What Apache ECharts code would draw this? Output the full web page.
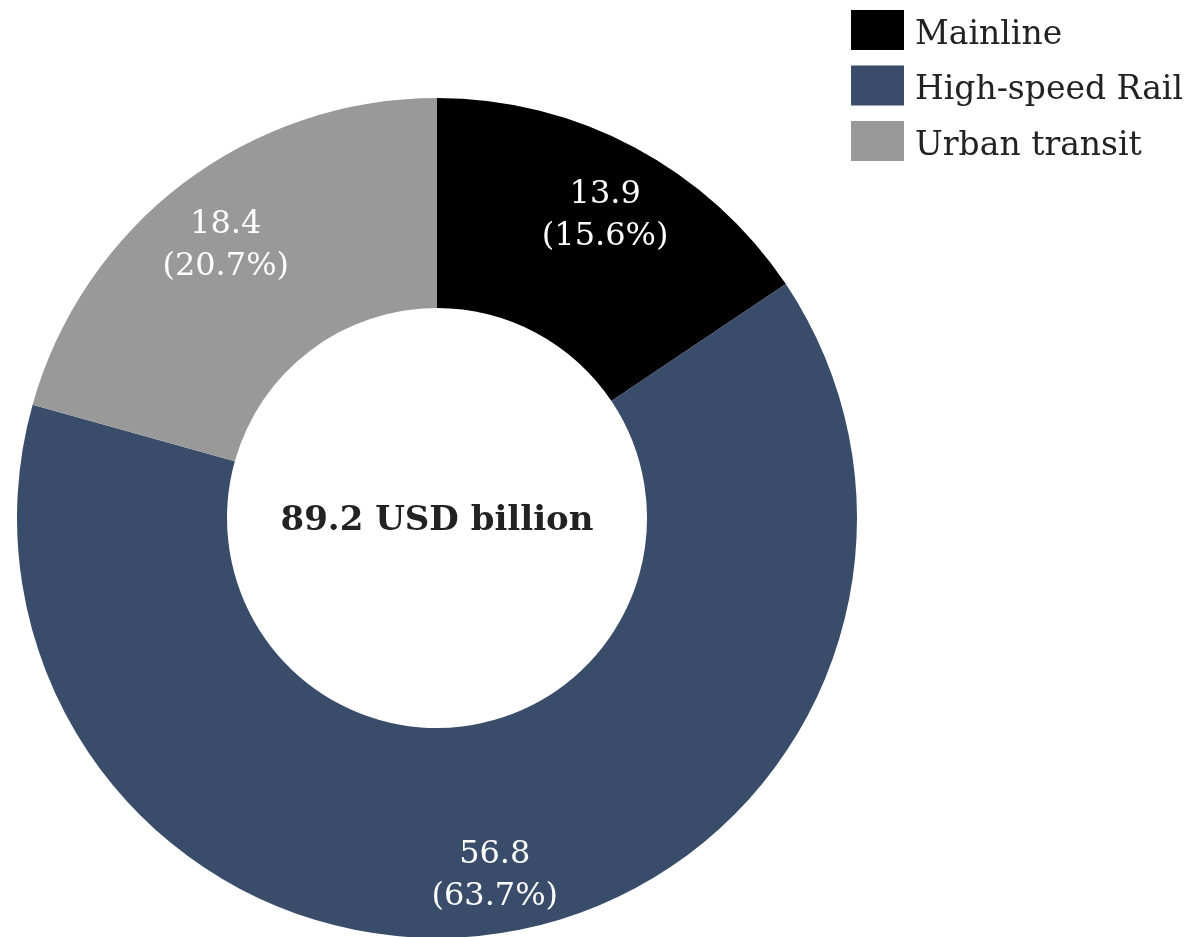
<!DOCTYPE html>
<html>
<head>
<meta charset="utf-8">
<script src="https://cdn.jsdelivr.net/npm/echarts@6/dist/echarts.min.js"></script>
<style>
html,body{margin:0;padding:0;background:#fff;}
#chart{width:1185px;height:937px;}
</style>
</head>
<body>
<div id="chart"></div>
<script>
const categories = ["Mainline", "High-speed Rail", "Urban transit"];
const values = [13.9, 56.8, 18.4];
const colors = ["#000000", "#394d6b", "#999999"];
const centerText = "89.2 USD billion";

const FONT = "DejaVu Serif, Liberation Serif, serif";
const total = values.reduce((a, b) => a + b, 0);
const chart = echarts.init(document.getElementById('chart'));
const data = categories.map((c, i) => ({ name: c, value: values[i], itemStyle: { color: colors[i] } }));

chart.setOption({
  animation: false,
  textStyle: { fontFamily: FONT },
  legend: {
    orient: 'vertical',
    left: 851,
    top: 10,
    padding: 0,
    icon: 'rect',
    itemWidth: 53,
    itemHeight: 40,
    itemGap: 14,
    data: categories,
    formatter: name => '{t|' + name + '}',
    textStyle: {
      fontFamily: FONT, fontSize: 33, color: '#222',
      rich: { t: { fontFamily: FONT, fontSize: 33, color: '#222', padding: [10, 0, 0, 6] } }
    }
  },
  title: {
    text: centerText,
    left: 437,
    top: 521,
    textAlign: 'center',
    textVerticalAlign: 'middle',
    padding: 0,
    textStyle: { fontFamily: FONT, fontWeight: 'bold', fontSize: 34, color: '#222' }
  },
  series: [{
    type: 'pie',
    center: [437, 518],
    radius: [210, 420],
    startAngle: 90,
    clockwise: true,
    data: data,
    label: { show: false },
    labelLine: { show: false },
    emphasis: { disabled: true }
  }, {
    type: 'pie',
    center: [437, 518],
    radius: [280, 420],
    startAngle: 90,
    clockwise: true,
    silent: true,
    data: categories.map((c, i) => ({ name: c, value: values[i], itemStyle: { color: 'rgba(0,0,0,0)' } })),
    label: {
      show: true,
      position: 'inside',
      formatter: p => p.value.toFixed(1) + '\n(' + (p.value / total * 100).toFixed(1) + '%)',
      color: '#fff',
      fontFamily: FONT,
      fontSize: 32,
      lineHeight: 42,
      offset: [2, 9]
    },
    labelLine: { show: false },
    emphasis: { disabled: true }
  }]
});
</script>
</body>
</html>
